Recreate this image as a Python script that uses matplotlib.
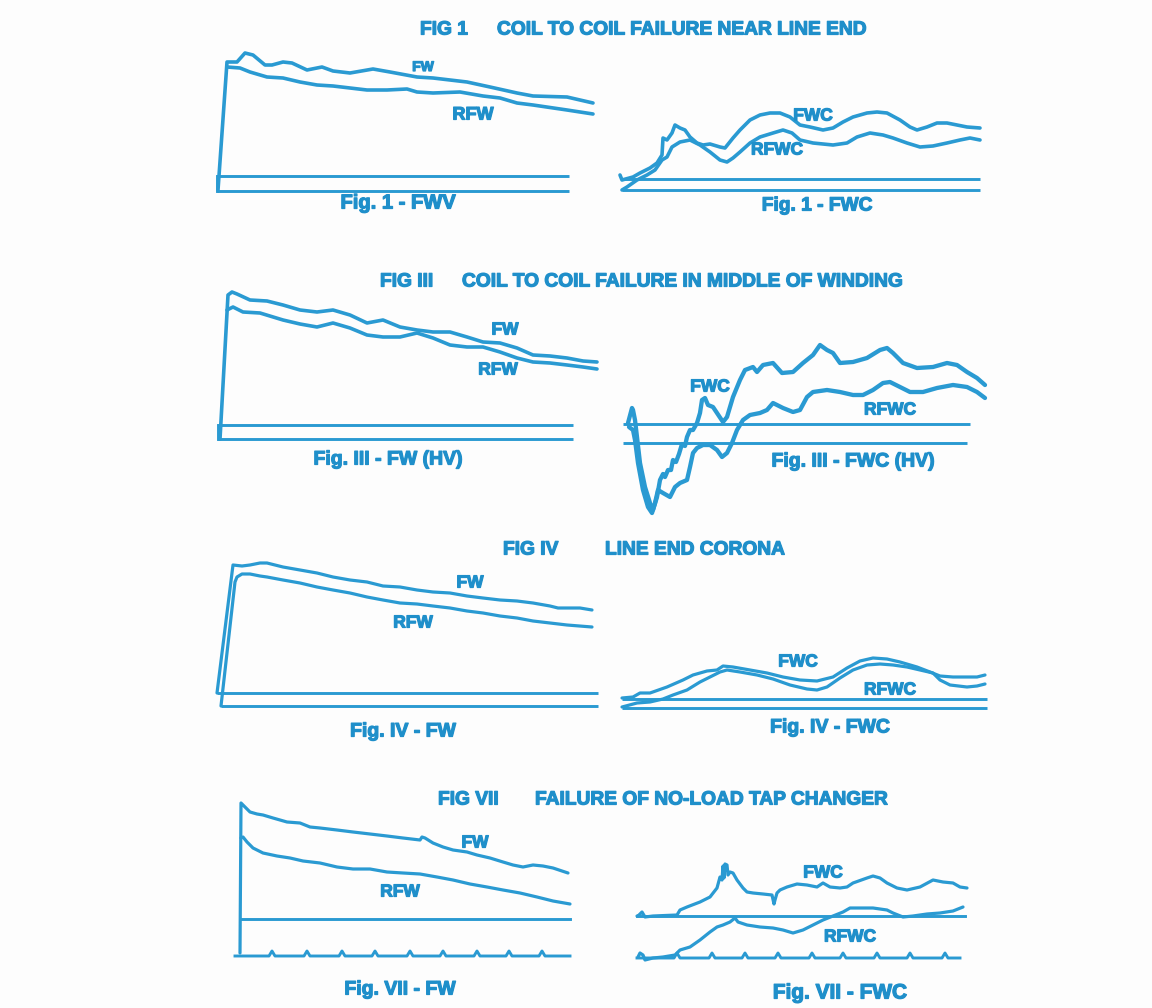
import matplotlib
matplotlib.use("Agg")
import matplotlib.pyplot as plt
import matplotlib.patheffects as pe

# ---------------------------------------------------------------------------
# Oscillogram traces: full-wave (FW) / reduced full-wave (RFW) voltage and
# the corresponding neutral-current traces (FWC / RFWC).
# Time t in screen divisions (1 unit = 1 px of trace), amplitude v above the
# zero line of the trace.
# ---------------------------------------------------------------------------

# FIG 1 - coil to coil failure near line end
fig1_fw_t = [1, 10, 20, 28, 36, 48, 55, 66, 75, 90, 105, 116, 133, 156, 173, 200, 216, 250, 273, 300, 316, 350, 363, 376]
fig1_fw_v = [-14, 114, 114, 123, 121, 111, 111, 114, 113, 106, 109, 105, 103, 107, 104, 99, 98, 94, 89, 83, 80, 79, 76, 73]
fig1_rfw_t = [10, 23, 33, 50, 66, 83, 100, 116, 150, 170, 190, 200, 216, 243, 266, 283, 300, 316, 350, 376]
fig1_rfw_v = [109, 108, 104, 99, 98, 94, 91, 90, 86, 86, 87, 84, 83, 84, 80, 78, 73, 71, 66, 62]

fig1c_fwc_t = [-2, 0, 11, 18, 28, 35, 40, 41, 45, 50, 53, 58, 63, 68, 75, 81, 88, 98, 103, 111, 118, 128, 138, 148,
               158, 168, 178, 188, 201, 211, 221, 231, 245, 255, 265, 278, 288, 295, 305, 315, 325, 335, 345, 358]
fig1c_fwc_v = [4, -1, 2, 6, 11, 16, 24, 41, 39, 46, 54, 51, 49, 42, 36, 34, 35, 32, 31, 41, 49, 59, 64, 66,
               66, 62, 54, 52, 49, 51, 57, 62, 66, 67, 66, 59, 52, 49, 52, 56, 56, 54, 52, 51]
fig1c_rfwc_t = [0, 5, 15, 25, 33, 40, 45, 50, 58, 68, 78, 88, 98, 105, 111, 118, 128, 138, 151, 161, 170, 178,
                191, 211, 225, 235, 248, 261, 271, 285, 298, 311, 325, 338, 348, 358]
fig1c_rfwc_v = [-11, -8, -1, 4, 9, 19, 22, 32, 37, 39, 34, 27, 19, 17, 21, 27, 36, 42, 46, 49, 46, 39,
                36, 34, 36, 42, 46, 44, 41, 36, 32, 33, 36, 39, 41, 39]

# FIG III - coil to coil failure in middle of winding
fig3_fw_t = [1, 9, 13, 18, 31, 48, 64, 81, 98, 114, 131, 148, 164, 181, 198, 214, 231, 248, 264, 281, 298, 314, 331, 348, 364, 378]
fig3_fw_v = [-14, 130, 133, 131, 125, 124, 120, 115, 113, 115, 110, 102, 105, 98, 95, 93, 93, 88, 83, 82, 77, 70, 69, 67, 64, 63]
fig3_rfw_t = [8, 14, 24, 41, 64, 81, 98, 114, 131, 148, 164, 181, 198, 214, 231, 248, 264, 281, 298, 314, 331, 348, 364, 378]
fig3_rfw_v = [115, 118, 113, 112, 105, 101, 98, 102, 97, 90, 88, 88, 92, 87, 80, 78, 78, 73, 67, 63, 62, 60, 58, 56]

fig3c_fwc_t = [5, 9, 10, 12, 14, 17, 22, 27, 30, 34, 37, 40, 42, 45, 48, 50, 53, 56, 59, 62, 64, 67, 70, 74,
               77, 79, 82, 85, 90, 94, 100, 104, 110, 117, 122, 130, 134, 140, 150, 159, 170, 180, 190, 197,
               204, 210, 217, 230, 244, 257, 264, 270, 280, 294, 310, 324, 334, 344, 354, 362]
fig3c_fwc_v = [1, 16, 14, 4, -13, -39, -63, -79, -86, -73, -56, -50, -53, -46, -46, -36, -38, -30, -20, -22, -13, -6, -6, 1,
               11, 24, 26, 19, 17, 11, 2, 7, 27, 44, 54, 57, 52, 59, 61, 51, 52, 61, 69, 79,
               74, 71, 61, 62, 66, 74, 76, 71, 61, 56, 57, 61, 59, 52, 46, 39]
fig3c_rfwc_t = [6, 10, 12, 15, 20, 25, 29, 32, 35, 40, 47, 52, 57, 64, 67, 70, 74, 80, 87, 94, 99, 104, 109, 114,
                120, 127, 137, 144, 150, 160, 170, 177, 184, 190, 204, 217, 230, 240, 250, 260, 267, 277, 287,
                300, 314, 330, 344, 354, 362]
fig3c_rfwc_v = [-3, -6, -16, -39, -66, -83, -89, -79, -66, -69, -73, -63, -59, -56, -43, -29, -24, -21, -21, -26, -33, -29, -19, -6,
                4, 9, 11, 14, 21, 16, 12, 14, 27, 32, 34, 32, 29, 29, 34, 41, 42, 37, 32,
                32, 36, 39, 37, 32, 26]

# FIG IV - line end corona
fig4_fw_t = [0, 16, 25, 33, 43, 50, 66, 83, 100, 116, 133, 150, 166, 183, 200, 216, 233, 250, 266, 283, 300, 316, 333, 341, 350, 363, 375]
fig4_fw_v = [0, 128, 127, 128, 130, 130, 126, 123, 120, 116, 113, 111, 107, 106, 103, 101, 100, 97, 95, 93, 92, 90, 87, 85, 85, 85, 83]
fig4_rfw_t = [4, 18, 20, 25, 33, 43, 50, 66, 83, 100, 116, 133, 150, 166, 183, 200, 216, 233, 250, 266, 283, 300, 316, 333, 350, 375]
fig4_rfw_v = [-13, 111, 116, 119, 119, 117, 116, 113, 110, 106, 103, 100, 96, 93, 90, 89, 87, 85, 82, 80, 77, 75, 72, 70, 68, 66]

fig4c_fwc_t = [0, 11, 18, 28, 45, 61, 71, 85, 95, 101, 111, 128, 145, 161, 178, 195, 211, 225, 238, 251, 265, 278, 295, 308, 318, 331, 345, 355, 363]
fig4c_fwc_v = [1, 2, 6, 6, 12, 19, 24, 28, 29, 33, 32, 29, 26, 22, 19, 18, 22, 31, 38, 41, 40, 37, 32, 27, 23, 22, 22, 22, 24]
fig4c_rfwc_t = [0, 15, 28, 41, 51, 65, 78, 88, 98, 105, 118, 135, 151, 168, 185, 195, 205, 218, 231, 245, 258, 271, 285, 298, 311, 318, 328, 345, 355, 363]
fig4c_rfwc_v = [-8, -4, -3, 0, 4, 9, 17, 22, 27, 29, 27, 24, 20, 14, 10, 9, 12, 21, 29, 34, 35, 34, 32, 29, 26, 19, 14, 12, 13, 15]

# FIG VII - failure of no-load tap changer
fig7_fw_t = [0, 1, 5, 10, 17, 23, 33, 47, 60, 70, 80, 97, 113, 130, 147, 163, 180, 182, 185, 193, 203, 213, 227, 237, 250, 263, 273, 283, 293, 303, 313, 328]
fig7_fw_v = [-34, 116, 112, 107, 105, 104, 101, 97, 96, 92, 91, 89, 87, 85, 83, 81, 79, 82, 81, 76, 72, 69, 67, 64, 61, 57, 54, 52, 54, 53, 51, 46]
fig7_rfw_t = [1, 3, 7, 13, 23, 37, 50, 63, 80, 97, 113, 130, 147, 163, 180, 197, 213, 230, 247, 263, 280, 297, 313, 330]
fig7_rfw_v = [81, 82, 77, 71, 66, 63, 61, 58, 56, 52, 50, 50, 47, 46, 45, 42, 39, 35, 32, 29, 26, 22, 18, 15]
fig7_marks = [32, 67, 102, 135, 170, 203, 237, 269, 302]

fig7c_fwc_t = [0, 1, 5, 8, 16, 40, 43, 50, 63, 73, 80, 83, 85, 86, 87, 88, 90, 91, 93, 96, 100, 106, 110, 116, 126,
               135, 137, 138, 140, 143, 150, 160, 170, 180, 186, 193, 203, 210, 216, 230, 236, 243, 250, 260, 270,
               283, 296, 306, 316, 323, 330]
fig7c_fwc_v = [0, 0, 4, -1, 0, 1, 6, 9, 14, 19, 28, 39, 36, 50, 38, 52, 51, 41, 44, 43, 36, 28, 24, 23, 22,
               21, 12, 16, 23, 26, 29, 32, 31, 29, 33, 29, 28, 29, 33, 38, 40, 38, 33, 28, 26,
               29, 36, 34, 33, 29, 28]
fig7c_rfwc_t = [1, 3, 6, 8, 16, 26, 38, 43, 53, 63, 73, 80, 86, 93, 98, 101, 110, 123, 136, 146, 156, 166, 176, 186,
                196, 206, 213, 223, 236, 250, 256, 266, 276, 290, 303, 316, 326]
fig7c_rfwc_v = [-41, -37, -39, -44, -42, -41, -39, -34, -31, -24, -16, -11, -9, -6, -2, -6, -9, -11, -12, -14, -17, -14, -9, -4,
                0, 4, 8, 8, 8, 6, 3, -1, 0, 2, 3, 5, 9]
fig7c_marks = [40, 75, 108, 141, 175, 206, 240, 273, 308]

MARK_HEIGHT = 5

# Titles and captions
headings = [("FIG 1", "COIL TO COIL FAILURE NEAR LINE END"),
            ("FIG III", "COIL TO COIL FAILURE IN MIDDLE OF WINDING"),
            ("FIG IV", "LINE END CORONA"),
            ("FIG VII", "FAILURE OF NO-LOAD TAP CHANGER")]
captions = ["Fig. 1 - FWV", "Fig. 1 - FWC",
            "Fig. III - FW (HV)", "Fig. III - FWC (HV)",
            "Fig. IV - FW", "Fig. IV - FWC",
            "Fig. VII - FW", "Fig. VII - FWC"]

# ---------------------------------------------------------------------------
W, H = 1152, 1008
INK = "#2a9ad2"
TEXT = "#1f8fca"
FONT = "Liberation Sans"
HEAVY = [pe.withStroke(linewidth=0.9, foreground=TEXT)]

fig = plt.figure(figsize=(W / 100, H / 100), dpi=100)
fig.patch.set_facecolor("#fdfdfd")


def panel(left, base, tlim, vlim):
    """Axes whose origin (t=0, v=0) sits at pixel (left, base); 1 unit = 1 px."""
    tmin, tmax = tlim
    vmin, vmax = vlim
    ax = fig.add_axes([(left + tmin) / W, (H - (base - vmin)) / H,
                       (tmax - tmin) / W, (vmax - vmin) / H])
    ax.set_xlim(tmin, tmax)
    ax.set_ylim(vmin, vmax)
    ax.axis("off")
    ax.patch.set_alpha(0)
    return ax


def trace(ax, t, v, lw=2.6):
    ax.plot(t, v, color=INK, lw=lw, solid_joinstyle="round", solid_capstyle="round", clip_on=False)


def zero_lines(ax, upper, lower, level, lw=2.1):
    ax.plot(upper, [0, 0], color=INK, lw=lw, clip_on=False, solid_capstyle="butt")
    ax.plot(lower, [level, level], color=INK, lw=lw, clip_on=False, solid_capstyle="butt")


def marker_line(ax, start, end, level, marks, lw=2.1):
    t, v = [start], [level]
    for m in marks:
        t += [m - 3, m, m + 3]
        v += [level, level + MARK_HEIGHT, level]
    t.append(end)
    v.append(level)
    ax.plot(t, v, color=INK, lw=lw, clip_on=False, solid_joinstyle="round")


def label(ax, t, v, s, size=12.5):
    ax.text(t, v, s, color=TEXT, fontsize=size, fontweight="bold", family=FONT,
            ha="center", va="center", path_effects=HEAVY)


def fig_text(x, y, s, size, ha="center"):
    fig.text(x / W, 1 - y / H, s, color=TEXT, fontsize=size, fontweight="bold",
             family=FONT, ha=ha, va="center", path_effects=HEAVY)


# --- FIG 1 ---------------------------------------------------------------
ax = panel(217, 176, (-10, 390), (-25, 130))
zero_lines(ax, [0, 352], [0, 352], -15)
ax.plot([0, 0], [-15, 0], color=INK, lw=2.1)
trace(ax, fig1_fw_t, fig1_fw_v)
trace(ax, fig1_rfw_t, fig1_rfw_v)
label(ax, 206, 109, "FW", 10)
label(ax, 256, 61, "RFW", 13)

ax = panel(622, 179, (-10, 370), (-20, 75))
zero_lines(ax, [0, 358], [0, 358], -11)
trace(ax, fig1c_fwc_t, fig1c_fwc_v)
trace(ax, fig1c_rfwc_t, fig1c_rfwc_v)
label(ax, 191, 63, "FWC")
label(ax, 155, 29, "RFWC")

# --- FIG III -------------------------------------------------------------
ax = panel(219, 425, (-10, 390), (-25, 140))
zero_lines(ax, [0, 354], [-1, 354], -14)
ax.plot([-1, -1], [-14, 0], color=INK, lw=2.1)
trace(ax, fig3_fw_t, fig3_fw_v)
trace(ax, fig3_rfw_t, fig3_rfw_v)
label(ax, 286, 95, "FW")
label(ax, 279, 55, "RFW")

ax = panel(623, 424, (-10, 370), (-95, 85))
zero_lines(ax, [0, 347], [0, 344], -19)
trace(ax, fig3c_fwc_t, fig3c_fwc_v, lw=3.1)
trace(ax, fig3c_rfwc_t, fig3c_rfwc_v, lw=3.1)
label(ax, 87, 37, "FWC")
label(ax, 267, 14, "RFWC")

# --- FIG IV --------------------------------------------------------------
ax = panel(217, 693, (-10, 390), (-20, 140))
zero_lines(ax, [0, 381], [4, 381], -13)
trace(ax, fig4_fw_t, fig4_fw_v, lw=2.3)
trace(ax, fig4_rfw_t, fig4_rfw_v, lw=2.3)
label(ax, 253, 110, "FW")
label(ax, 196, 70, "RFW")

ax = panel(622, 699, (-10, 370), (-15, 50))
zero_lines(ax, [0, 365], [0, 365], -9)
trace(ax, fig4c_fwc_t, fig4c_fwc_v, lw=2.3)
trace(ax, fig4c_rfwc_t, fig4c_rfwc_v, lw=2.3)
label(ax, 176, 37, "FWC")
label(ax, 268, 9, "RFWC")

# --- FIG VII -------------------------------------------------------------
ax = panel(240, 919, (-10, 340), (-45, 125))
ax.plot([0, 330], [0, 0], color=INK, lw=2.1)
marker_line(ax, -5, 330, -37, fig7_marks)
trace(ax, fig7_fw_t, fig7_fw_v, lw=2.3)
trace(ax, fig7_rfw_t, fig7_rfw_v, lw=2.3)
label(ax, 235, 76, "FW")
label(ax, 160, 27, "RFW")

ax = panel(637, 916, (-10, 340), (-50, 60))
ax.plot([0, 328], [0, 0], color=INK, lw=2.1)
marker_line(ax, 0, 323, -42, fig7c_marks)
trace(ax, fig7c_fwc_t, fig7c_fwc_v, lw=2.3)
trace(ax, fig7c_rfwc_t, fig7c_rfwc_v, lw=2.3)
label(ax, 186, 43, "FWC")
label(ax, 213, -21, "RFWC")

# --- headings and captions ----------------------------------------------
heading_pos = [(420, 497, 30), (380, 462, 282), (503, 605, 550), (438, 535, 800)]
for (tag, title), (x_tag, x_title, y) in zip(headings, heading_pos):
    fig_text(x_tag, y, tag, 13.8, ha="left")
    fig_text(x_title, y, title, 13.8, ha="left")

caption_pos = [(398, 203), (817, 206), (388, 460), (853, 462),
               (403, 732), (830, 728), (400, 990), (840, 993)]
caption_size = [14.5, 13.8, 14, 14, 14, 14, 14, 15]
for s, (x, y), fs in zip(captions, caption_pos, caption_size):
    fig_text(x, y, s, fs)

fig.savefig("out.png", dpi=100, facecolor=fig.get_facecolor())
